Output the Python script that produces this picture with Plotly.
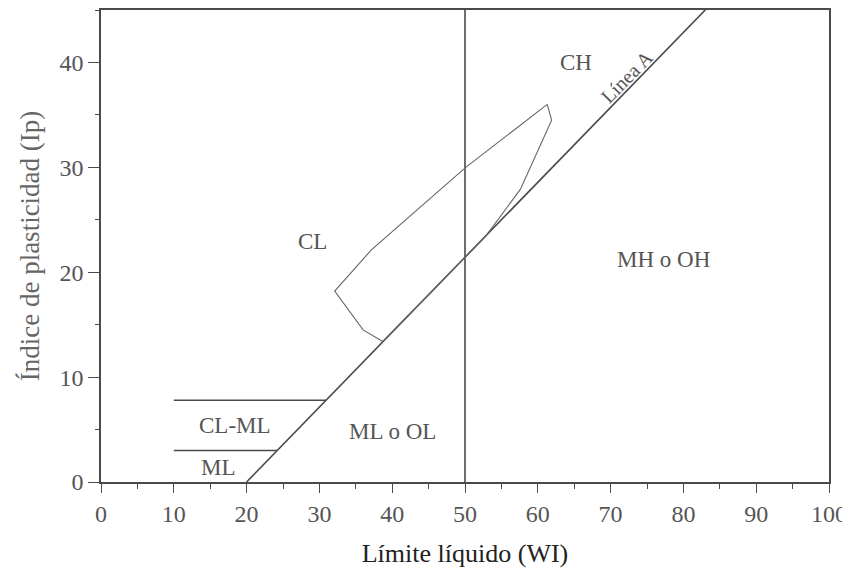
import plotly.graph_objects as go

# --- data ---
a_line_wl = [20, 83]
a_line_ip = [0, 45]
vline_wl = [50, 50]
vline_ip = [0, 45]
clml_upper_wl = [10, 30.9]
clml_upper_ip = [7.8, 7.8]
clml_lower_wl = [10, 24.2]
clml_lower_ip = [3.0, 3.0]
zone_wl = [61.3, 61.9, 57.6, 52.8, 38.7, 36.0, 32.1, 37.1, 50.1, 61.3]
zone_ip = [36.0, 34.5, 27.9, 23.4, 13.4, 14.5, 18.2, 22.1, 30.0, 36.0]

labels = ["CH", "CL", "MH o OH", "CL-ML", "ML", "ML o OL"]
label_wl = [65.3, 29.0, 77.3, 18.4, 16.2, 40.0]
label_ip = [40.0, 22.9, 21.2, 5.4, 1.4, 4.8]
linea_a_text = "Línea A"
linea_a_pos = (72.2, 38.6)

x_ticks = [0, 10, 20, 30, 40, 50, 60, 70, 80, 90, 100]
y_ticks = [0, 10, 20, 30, 40]

LINE = "#4a4a4a"
TXT = "#555555"
FONT = "Liberation Serif"

fig = go.Figure()
for xs, ys in [(a_line_wl, a_line_ip), (vline_wl, vline_ip),
               (clml_upper_wl, clml_upper_ip), (clml_lower_wl, clml_lower_ip)]:
    fig.add_trace(go.Scatter(x=xs, y=ys, mode="lines",
                             line=dict(color=LINE, width=1.6),
                             showlegend=False, hoverinfo="skip"))
fig.add_trace(go.Scatter(x=zone_wl, y=zone_ip, mode="lines",
                         line=dict(color="#666666", width=1.1),
                         showlegend=False, hoverinfo="skip"))

for t, x, y in zip(labels, label_wl, label_ip):
    fig.add_annotation(x=x, y=y, text=t, showarrow=False,
                       font=dict(family=FONT, size=23, color=TXT))
fig.add_annotation(x=linea_a_pos[0], y=linea_a_pos[1], text=linea_a_text,
                   showarrow=False, textangle=-45.5,
                   font=dict(family=FONT, size=20, color=TXT))

fig.update_xaxes(range=[0, 100], tickvals=x_ticks, ticks="outside", ticklen=9,
                 tickwidth=1.4, tickcolor=LINE, showline=True, linecolor=LINE,
                 linewidth=1.6, mirror=True, showgrid=False, zeroline=False,
                 automargin=False,
                 minor=dict(dtick=5, ticks="outside", ticklen=5, tickcolor=LINE, tickwidth=1.2),
                 tickfont=dict(family=FONT, size=24, color=TXT),
                 title=dict(text="Límite líquido (WI)", standoff=18,
                            font=dict(family=FONT, size=26, color="#222222")))
fig.update_yaxes(range=[0, 45], tickvals=y_ticks, ticks="outside", ticklen=11,
                 tickwidth=1.4, tickcolor=LINE, showline=True,
                 linecolor=LINE, linewidth=1.6, mirror=True, showgrid=False, zeroline=False,
                 automargin=False,
                 minor=dict(dtick=5, ticks="outside", ticklen=4, tickcolor=LINE, tickwidth=1.2),
                 tickfont=dict(family=FONT, size=24, color=TXT),
                 title=dict(text="Índice de plasticidad (Ip)", standoff=12,
                            font=dict(family=FONT, size=27, color="#666666")))

fig.update_layout(width=842, height=565, plot_bgcolor="white", paper_bgcolor="white",
                  margin=dict(l=93, r=21, t=2, b=91), showlegend=False)
fig.write_html("out.html")
